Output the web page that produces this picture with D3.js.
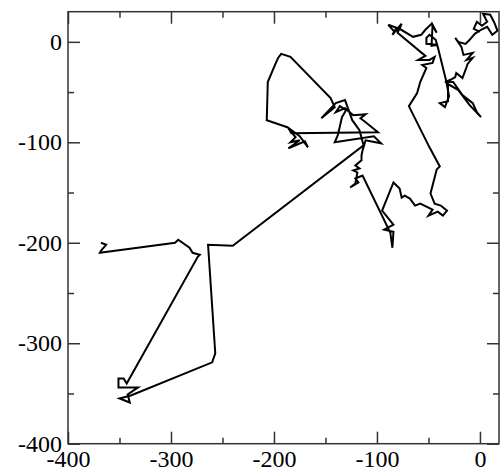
<!DOCTYPE html>
<html>
<head>
<meta charset="utf-8">
<script src="https://cdn.jsdelivr.net/npm/d3@7"></script>
<style>
    body { margin: 0; background: #fff; }
    svg text { font-family: 'Liberation Serif', 'Times New Roman', serif; font-size: 24px; fill: #000; }
</style>
</head>
<body>
<svg id="chart" width="500" height="471"></svg>
<script>
// tick values
let majorTicks = [-400, -300, -200, -100, 0]
let minorTicks = [-350, -250, -150, -50]

// walk (x, y)
let walkTopRight = [
    [0, 10], [-6, 13], [-3, 20], [2, 16], [7, 20], [3, 28], [10, 27], [14, 19], [17, 11], [12, 7],
    [7, 15], [1, 12], [-5, 8], [-10, 2], [-14, -2], [-21, 0], [-24, 4], [-18, -5], [-16, -13], [-7, -11],
    [-13, -18], [-7, -16], [-12, -22], [-14, -28], [-17, -36], [-23, -31], [-24, -35], [-29, -38], [-34, -40], [-26, -40],
    [-17, -53], [-7, -61], [-3, -70], [1, -75], [-10, -63], [-21, -48], [-31, -42], [-31, -59], [-39, -61], [-34, -65],
    [-30, -54], [-33, -38], [-41, -5], [-43, 2], [-49, 7], [-52, 4], [-52, -2], [-41, -3], [-47, -4], [-46, 17],
    [-42, 9], [-47, 18], [-53, 12], [-57, 7], [-65, 5], [-78, 13], [-83, 10], [-89, 17], [-81, 14], [-85, 7],
    [-82, 11], [-76, 18], [-80, 9], [-53, -14], [-60, -18], [-49, -18], [-44, -15], [-46, -21], [-56, -23], [-52, -26],
    [-58, -40], [-61, -51], [-69, -64], [-49, -105], [-39, -124]
]
let walkLowRight = [
    [-42, -127], [-48, -151], [-44, -161], [-38, -163], [-32, -168], [-36, -173], [-41, -169], [-50, -173], [-46, -167], [-58, -161],
    [-63, -163], [-68, -156], [-73, -153], [-76, -155], [-78, -146], [-81, -143], [-84, -140], [-95, -168], [-84, -182], [-93, -187],
    [-84, -189], [-85, -205], [-87, -190], [-114, -133], [-121, -136], [-118, -140], [-126, -145], [-121, -141], [-119, -130], [-123, -128],
    [-117, -126], [-121, -123], [-115, -118], [-115, -113], [-114, -108]
]
let walkMiddle = [
    [-111, -98], [-96, -101], [-103, -94], [-141, -100], [-138, -93], [-134, -75], [-130, -68], [-136, -64], [-140, -70], [-131, -66],
    [-123, -73], [-111, -72], [-116, -76], [-111, -80], [-99, -90], [-183, -91], [-186, -86], [-179, -95], [-184, -100], [-175, -98],
    [-186, -106], [-170, -99], [-167, -105], [-175, -94], [-187, -85], [-207, -78], [-206, -40], [-199, -23], [-196, -16], [-193, -12],
    [-184, -15], [-145, -56], [-141, -65], [-154, -76], [-140, -61], [-131, -58], [-124, -78], [-117, -88], [-113, -103]
]
let walkLeft = [
    [-240, -203], [-264, -202], [-257, -310], [-260, -319], [-339, -352], [-350, -355], [-340, -359], [-342, -351], [-332, -344], [-351, -344],
    [-351, -335], [-346, -335], [-343, -340], [-274, -214], [-272, -212], [-279, -210], [-282, -205], [-293, -197], [-296, -200], [-369, -210],
    [-368, -208], [-363, -202], [-368, -200]
]

let walk = walkTopRight.concat(walkLowRight, walkMiddle, walkLeft)

let plotLeft = 68
let plotRight = 499
let plotTop = 11.7
let plotBottom = 443.7

let svg = d3.select('#chart')
let xScale = d3.scaleLinear().domain([-400, 18.5]).range([plotLeft, plotRight])
let yScale = d3.scaleLinear().domain([-400, 30]).range([plotBottom, plotTop])

// clip
svg.append('clipPath').attr('id', 'plot-clip')
    .append('rect')
    .attr('x', plotLeft).attr('y', plotTop)
    .attr('width', plotRight - plotLeft).attr('height', plotBottom - plotTop)

// walk line
let line = d3.line()
    .x(d => xScale(d[0]))
    .y(d => yScale(d[1]))
svg.append('path').datum(walk)
    .attr('clip-path', 'url(#plot-clip)')
    .attr('d', line)
    .attr('fill', 'none')
    .attr('stroke', '#000')
    .attr('stroke-width', 2)
    .attr('stroke-linejoin', 'miter')

// axes, ticks point inward on all four sides
function styleAxis(g) {
    g.select('.domain').remove()
    g.selectAll('.tick line').attr('stroke', '#333').attr('stroke-width', 1.5)
}
let fmt = d => String(d)

svg.append('g').attr('transform', 'translate(0,' + plotBottom + ')')
    .call(d3.axisBottom(xScale).tickValues(majorTicks).tickSize(-12).tickPadding(6).tickFormat(fmt))
    .call(styleAxis)
svg.append('g').attr('transform', 'translate(0,' + plotBottom + ')')
    .call(d3.axisBottom(xScale).tickValues(minorTicks).tickSize(-6).tickFormat(''))
    .call(styleAxis)
svg.append('g').attr('transform', 'translate(0,' + plotTop + ')')
    .call(d3.axisTop(xScale).tickValues(majorTicks).tickSize(-12).tickFormat(''))
    .call(styleAxis)
svg.append('g').attr('transform', 'translate(0,' + plotTop + ')')
    .call(d3.axisTop(xScale).tickValues(minorTicks).tickSize(-6).tickFormat(''))
    .call(styleAxis)

svg.append('g').attr('transform', 'translate(' + plotLeft + ',0)')
    .call(d3.axisLeft(yScale).tickValues(majorTicks).tickSize(-12).tickPadding(6).tickFormat(fmt))
    .call(styleAxis)
svg.append('g').attr('transform', 'translate(' + plotLeft + ',0)')
    .call(d3.axisLeft(yScale).tickValues(minorTicks).tickSize(-6).tickFormat(''))
    .call(styleAxis)
svg.append('g').attr('transform', 'translate(' + plotRight + ',0)')
    .call(d3.axisRight(yScale).tickValues(majorTicks).tickSize(-12).tickFormat(''))
    .call(styleAxis)
svg.append('g').attr('transform', 'translate(' + plotRight + ',0)')
    .call(d3.axisRight(yScale).tickValues(minorTicks).tickSize(-6).tickFormat(''))
    .call(styleAxis)

// axis groups carry their own font attrs, drop them so css applies
svg.selectAll('g').attr('font-family', null).attr('font-size', null)
svg.selectAll('g text').attr('fill', '#000')

// frame
svg.append('rect')
    .attr('x', plotLeft).attr('y', plotTop)
    .attr('width', plotRight - plotLeft).attr('height', plotBottom - plotTop)
    .attr('fill', 'none')
    .attr('stroke', '#333')
    .attr('stroke-width', 1.5)
</script>
</body>
</html>
